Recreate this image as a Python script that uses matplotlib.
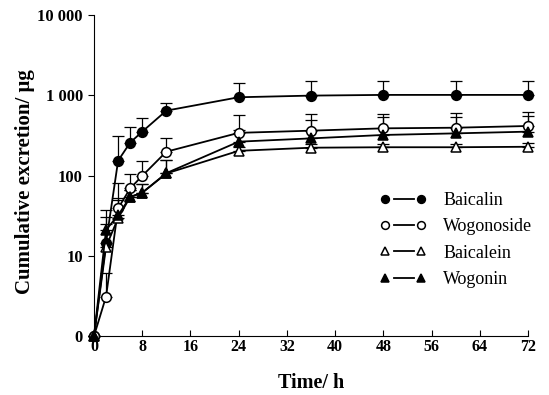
import copy
import numpy as np
import matplotlib.pyplot as plt
from matplotlib.lines import Line2D
from matplotlib.legend_handler import HandlerLine2D
from matplotlib.ticker import FixedLocator, FixedFormatter, NullLocator

plt.rcParams['font.family'] = ['Liberation Serif', 'DejaVu Serif']

t = [0, 2, 4, 6, 8, 12, 24, 36, 48, 60, 72]

# 0 h values sit on the bottom of the log axis (labelled "0")
baicalin = [1, 14.6, 153, 257, 352, 643, 944, 990, 1010, 1010, 1010]
baicalin_sd = [0, 10, 160, 150, 165, 165, 460, 520, 500, 500, 500]
wogonoside = [1, 3.1, 39, 69, 99, 198, 340, 362, 387, 394, 414]
wogonoside_sd = [0, 3, 41, 35, 54, 97, 225, 220, 200, 200, 210]
baicalein = [1, 13, 29.5, 54, 61, 106, 203, 222, 225, 225, 228]
baicalein_sd = [0, 17, 20, 12, 17, 50, 25, 25, 25, 25, 25]
wogonin = [1, 21, 32, 54, 61, 107, 264, 290, 320, 335, 352]
wogonin_sd = [0, 16, 20, 12, 17, 50, 100, 200, 210, 200, 200]

series = [
    ('Baicalin', baicalin, baicalin_sd, 'o', 'black'),
    ('Wogonoside', wogonoside, wogonoside_sd, 'o', 'white'),
    ('Baicalein', baicalein, baicalein_sd, '^', 'white'),
    ('Wogonin', wogonin, wogonin_sd, '^', 'black'),
]


# legend key "●—●": the dash does not touch the markers
class GapLine(HandlerLine2D):
    def create_artists(self, legend, orig_handle, xdescent, ydescent,
                       width, height, fontsize, trans):
        arts = super().create_artists(legend, orig_handle, xdescent, ydescent,
                                      width, height, fontsize, trans)
        line = arts[0]
        marks = copy.copy(line)
        marks.set_linestyle('none')
        x = line.get_xdata()
        y0 = line.get_ydata()[0]
        line.set_marker('None')
        line.set_markevery(None)
        line.set_data([x[0] + 6.5, x[-1] - 5.5], [y0, y0])
        return [line, marks]


fig = plt.figure(figsize=(5.49, 3.95), dpi=100)
ax = fig.add_axes([94 / 549, 1 - 336 / 395, 434 / 549, 321 / 395])

for name, y, sd, mk, fc in series:
    y = np.array(y, dtype=float)
    sd = np.array(sd, dtype=float)
    ax.errorbar(t, y, yerr=[np.zeros_like(sd), sd], fmt='none', ecolor='black',
                elinewidth=0.9, capsize=4, capthick=0.9, clip_on=False, zorder=2)
    ax.plot(t, y, color='black', lw=1.3, marker=mk, markersize=7,
            markerfacecolor=fc, markeredgecolor='black', markeredgewidth=1.1,
            label=name, clip_on=False, zorder=3)

ax.set_yscale('log')
ax.set_ylim(1, 10000)
ax.set_xlim(0, 72)
ax.yaxis.set_major_locator(FixedLocator([1, 10, 100, 1000, 10000]))
ax.yaxis.set_major_formatter(FixedFormatter(['0', '10', '100', '1 000', '10 000']))
ax.yaxis.set_minor_locator(NullLocator())
ax.set_xticks(range(0, 73, 8))

ax.spines['top'].set_visible(False)
ax.spines['right'].set_visible(False)
ax.tick_params(axis='x', direction='in', length=4, labelsize=11.5, pad=2)
ax.tick_params(axis='y', direction='out', length=4, labelsize=12, pad=4)
for lab in ax.get_xticklabels() + ax.get_yticklabels():
    lab.set_fontweight('bold')

ax.set_xlabel('Time/ h', fontsize=14.5, fontweight='bold')
ax.xaxis.set_label_coords(0.5, -0.115)
ax.set_ylabel('Cumulative excretion/ μg', fontsize=15, fontweight='bold')
ax.yaxis.set_label_coords(-0.135, 0.48)

ax.legend(loc='center left', bbox_to_anchor=(0.638, 0.299), frameon=False,
          numpoints=2, fontsize=13, markerscale=0.8, borderpad=0,
          handlelength=2.6, handletextpad=0.9, labelspacing=0.52,
          handler_map={Line2D: GapLine(numpoints=2)})

plt.savefig('out.png', dpi=100)
